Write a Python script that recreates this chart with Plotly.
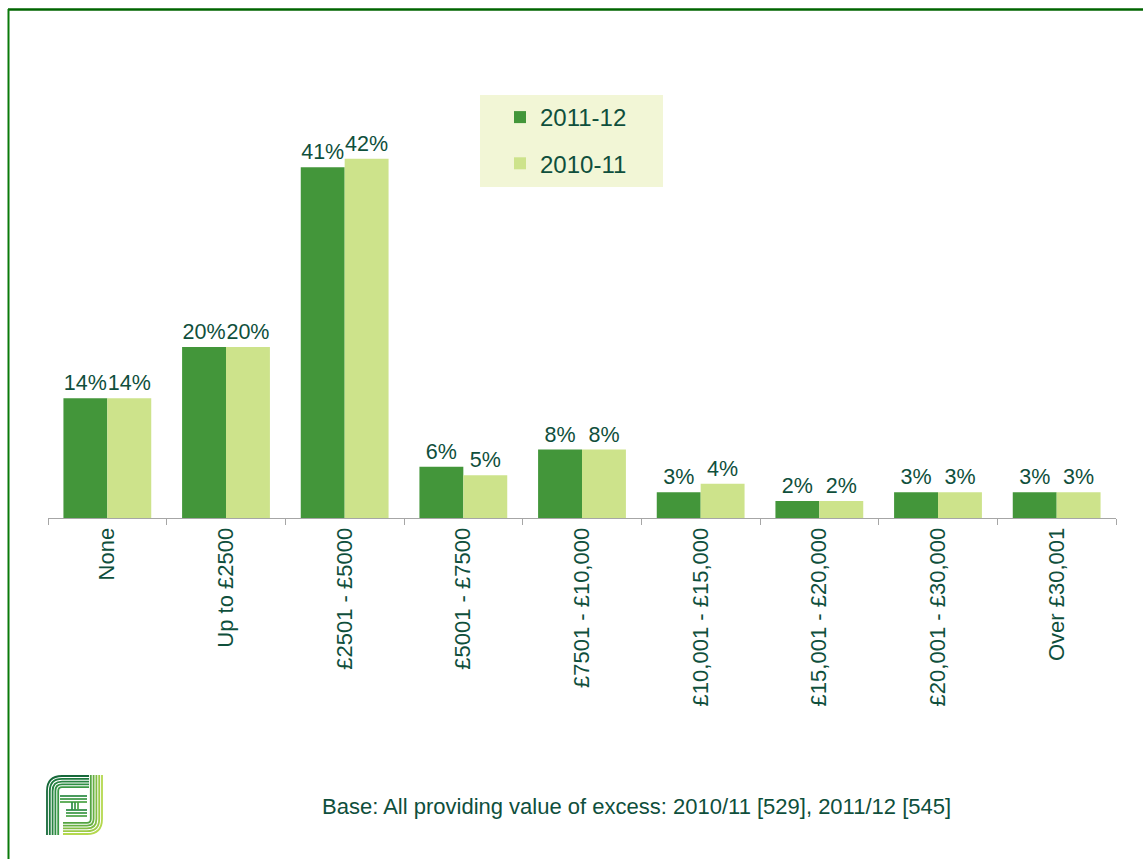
import plotly.graph_objects as go

# Excess bands and share of respondents (%)
categories = ["None", "Up to £2500", "£2501 - £5000", "£5001 - £7500",
              "£7501 - £10,000", "£10,001 - £15,000", "£15,001 - £20,000",
              "£20,001 - £30,000", "Over £30,001"]
values_2011_12 = [14, 20, 41, 6, 8, 3, 2, 3, 3]
values_2010_11 = [14, 20, 42, 5, 8, 4, 2, 3, 3]
series_names = ["2011-12", "2010-11"]
footnote = "Base: All providing value of excess: 2010/11 [529], 2011/12 [545]"

W, H = 1143, 859
ML, MR, MT, MB = 48, 27, 133, 341
YMAX = 45
DARK, LIGHT = "#43963a", "#cde38b"
TEXT = "#0f4f3c"
FONT = "Liberation Sans, Arial, sans-serif"


def px(x):
    return (x - ML) / (W - ML - MR)


def py(y):
    return (H - MB - y) / (H - MT - MB)


def pt(x, y):
    return f"{px(x):.5f},{py(y):.5f}"


fig = go.Figure()
for name, vals, col in [(series_names[0], values_2011_12, DARK),
                        (series_names[1], values_2010_11, LIGHT)]:
    fig.add_trace(go.Bar(
        x=categories, y=vals, name=name, marker=dict(color=col, line_width=0),
        text=[f"{v}%" for v in vals], textposition="outside",
        textfont=dict(size=21.5, color=TEXT, family=FONT),
        constraintext="none", cliponaxis=False, legendgroup=name,
    ))

shapes = []
# legend panel
shapes.append(dict(type="rect", xref="paper", yref="paper",
                   x0=px(480), x1=px(663), y0=py(187), y1=py(95),
                   fillcolor="#f2f6d6", line_width=0, layer="below"))
# frame lines
shapes.append(dict(type="line", xref="paper", yref="paper",
                   x0=px(8), x1=px(W + 5), y0=py(9.5), y1=py(9.5),
                   line=dict(color="#006400", width=2.5)))
shapes.append(dict(type="line", xref="paper", yref="paper",
                   x0=px(8.5), x1=px(8.5), y0=py(9), y1=py(H + 5),
                   line=dict(color="#0a7a0a", width=2)))

# emblem: nested strokes forming an "FI" mark
left_cols = ["#17693a", "#1f7a3e", "#288441", "#2f8e43", "#3b9945"]
right_cols = ["#b4d84e", "#9ccb48", "#82bd44", "#68b042", "#53a341"]
for i in range(5):
    d = 1 + 2.8 * i
    x0, y0 = 46 + d, 775 + d
    r = max(16 - d, 3)
    path = (f"M{pt(x0, 835)} L{pt(x0, y0 + r)} Q{pt(x0, y0)} {pt(x0 + r, y0)} "
            f"L{pt(89, y0)}")
    shapes.append(dict(type="path", xref="paper", yref="paper", path=path,
                       line=dict(color=left_cols[i], width=1.8)))
    x1, y1 = 103 - d, 835 - d
    path = (f"M{pt(x1, 775)} L{pt(x1, y1 - r)} Q{pt(x1, y1)} {pt(x1 - r, y1)} "
            f"L{pt(63, y1)}")
    shapes.append(dict(type="path", xref="paper", yref="paper", path=path,
                       line=dict(color=right_cols[i], width=1.8)))
mid_cols = ["#2a8a41", "#3a9644", "#4aa244"]
for j, yy in enumerate([796, 799, 802]):
    shapes.append(dict(type="line", xref="paper", yref="paper",
                       x0=px(60), x1=px(87), y0=py(yy), y1=py(yy),
                       line=dict(color=mid_cols[j], width=1.7)))
for j, yy in enumerate([810, 813, 816]):
    shapes.append(dict(type="line", xref="paper", yref="paper",
                       x0=px(66), x1=px(87), y0=py(yy), y1=py(yy),
                       line=dict(color=mid_cols[j], width=1.7)))
for j, xx in enumerate([72, 75, 78]):
    shapes.append(dict(type="line", xref="paper", yref="paper",
                       x0=px(xx), x1=px(xx), y0=py(802), y1=py(810),
                       line=dict(color=mid_cols[j], width=1.7)))

fig.update_layout(
    width=W, height=H,
    margin=dict(l=ML, r=MR, t=MT, b=MB, pad=0),
    paper_bgcolor="white", plot_bgcolor="white",
    barmode="group", bargap=0.26, bargroupgap=0,
    font=dict(family=FONT, color=TEXT),
    showlegend=True,
    legend=dict(x=px(500), y=py(95), xanchor="left", yanchor="top",
                bgcolor="rgba(0,0,0,0)", traceorder="grouped",
                tracegroupgap=12, font=dict(size=24, color=TEXT, family=FONT)),
    xaxis=dict(showline=True, linecolor="#a6a6a6", linewidth=1,
               ticks="outside", tickson="boundaries", ticklen=6,
               tickcolor="#a6a6a6", tickangle=-90,
               tickfont=dict(size=22, color=TEXT, family=FONT),
               showgrid=False, fixedrange=True),
    yaxis=dict(visible=False, range=[0, YMAX], showgrid=False, fixedrange=True),
    shapes=shapes,
    annotations=[dict(text=footnote, xref="paper", yref="paper",
                      x=px(636.5), y=py(806), xanchor="center", yanchor="middle",
                      showarrow=False,
                      font=dict(size=22, color=TEXT, family=FONT))],
)

fig.write_html("out.html")
